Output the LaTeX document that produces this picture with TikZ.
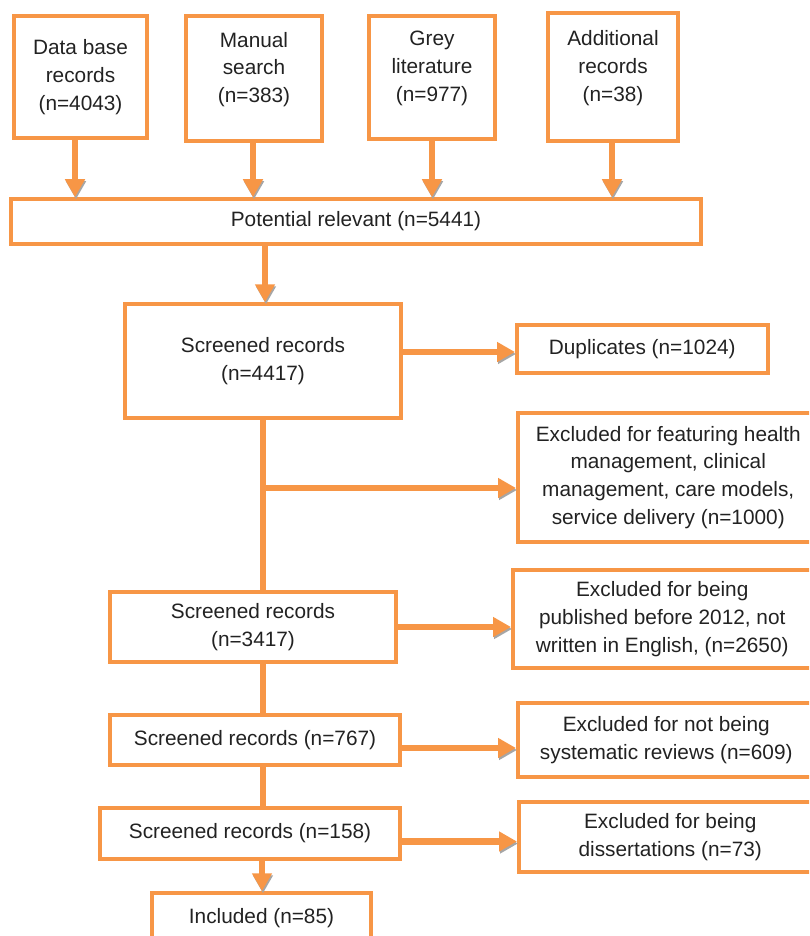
\documentclass[tikz,border=0pt]{standalone}
\usepackage{fontspec}
\setmainfont{Liberation Sans}
\usetikzlibrary{arrows.meta}

\definecolor{boxorange}{HTML}{F79646}
\definecolor{txtgray}{HTML}{222222}

\begin{document}
\begin{tikzpicture}[
    x=1pt, y=-1pt,
    every node/.style={font=\fontsize{20.8}{27.8}\selectfont, text=txtgray},
    box/.style={draw=boxorange, line width=3.5pt, align=center, inner sep=0pt},
    srclabel/.style={align=center, yshift=9pt},
    flow/.style={draw=boxorange, line width=6.5pt},
    arr/.style={flow, -{Triangle[width=19pt,length=18pt]},
      preaction={draw=black!35, transform canvas={xshift=1pt,yshift=-2pt}}},
  ]
  \useasboundingbox (0,0) rectangle (809,936);
  \clip (0,0) rectangle (809,936);

  % sources
  \node[box, minimum width=133, minimum height=122] (db) at (80.5,77)
    {Data base\\records\\(n=4043)};
  \node[box, minimum width=136, minimum height=125,
    label={[name=ms-t, srclabel]center:{Manual\\search\\(n=383)}}] (ms) at (254,78.5) {};
  \node[box, minimum width=126, minimum height=123,
    label={[name=gl-t, srclabel]center:{Grey\\literature\\(n=977)}}] (gl) at (432,77.5) {};
  \node[box, minimum width=130, minimum height=128,
    label={[name=ar-t, srclabel]center:{Additional\\records\\(n=38)}}] (ar) at (613,77) {};

  \node[box, minimum width=690, minimum height=45] (pr) at (356,221.5)
    {Potential relevant (n=5441)};

  % screening column
  \node[box, minimum width=276, minimum height=114] (s1) at (263,361)
    {Screened records\\(n=4417)};
  \node[box, minimum width=286, minimum height=70] (s2) at (253,627)
    {Screened records\\(n=3417)};
  \node[box, minimum width=290, minimum height=50] (s3) at (255,740)
    {Screened records (n=767)};
  \node[box, minimum width=300, minimum height=51] (s4) at (250,833.5)
    {Screened records (n=158)};
  \node[box, minimum width=219, minimum height=50] (inc) at (261.5,918)
    {Included (n=85)};

  % exclusions
  \node[box, anchor=west, minimum width=251, minimum height=48] (dup) at (515,349)
    {Duplicates (n=1024)};
  \node[box, anchor=west, minimum width=301, minimum height=129] (exh) at (516,477.5)
    {Excluded for featuring health\\management, clinical\\management, care models,\\service delivery (n=1000)};
  \node[box, anchor=west, minimum width=299, minimum height=98] (exp) at (511,619)
    {Excluded for being\\published before 2012, not\\written in English, (n=2650)};
  \node[box, anchor=west, minimum width=297, minimum height=74] (exs) at (516,740)
    {Excluded for not being\\systematic reviews (n=609)};
  \node[box, anchor=west, minimum width=303, minimum height=70] (exd) at (517,837)
    {Excluded for being\\dissertations (n=73)};

  % arrows into the pool
  \draw[arr] (db.south) ++(-5.5,0) coordinate (db-a) -- (db-a |- pr.north);
  \draw[arr] (ms.south) ++(-1,0) coordinate (ms-a) -- (ms-a |- pr.north);
  \draw[arr] (gl.south) -- (gl.south |- pr.north);
  \draw[arr] (ar.south) ++(-1,0) coordinate (ar-a) -- (ar-a |- pr.north);
  \draw[arr] (s1.north |- pr.south) ++(2,0) coordinate (pr-a) -- (pr-a |- s1.north);

  % trunk
  \draw[flow] (s1.south) -- (s1.south |- s2.north);
  \draw[flow] (s1.south |- s2.south) -- (s1.south |- s3.north);
  \draw[flow] (s1.south |- s3.south) -- (s1.south |- s4.north);
  \draw[arr] (s1.south |- s4.south) ++(-1,0) coordinate (s4-a) -- (s4-a |- inc.north);

  % side arrows
  \coordinate (br) at (265,488);
  \draw[arr] (s1.east |- dup.west) ++(0,3) coordinate (s1-a) -- (s1-a -| dup.west);
  \draw[arr] (br) -- (br -| exh.west);
  \draw[arr] (s2.east) -- (s2.east -| exp.west);
  \draw[arr] (s3.east) ++(0,8) coordinate (s3-a) -- (s3-a -| exs.west);
  \draw[arr] (s4.east) ++(0,8) coordinate (s4-b) -- (s4-b -| exd.west);
\end{tikzpicture}
\end{document}
